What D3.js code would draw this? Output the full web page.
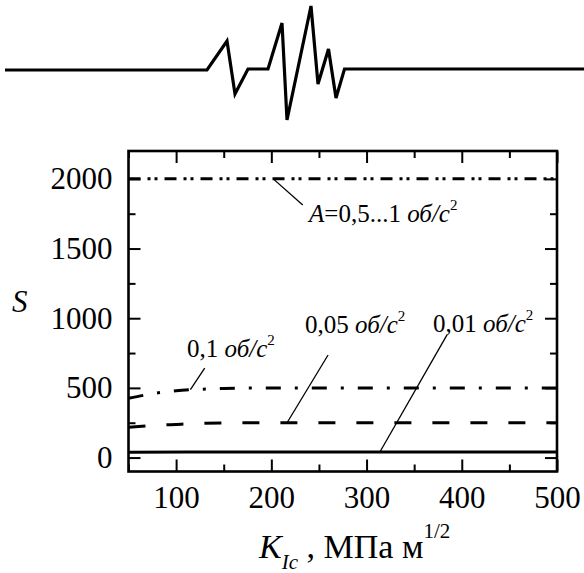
<!DOCTYPE html>
<html><head><meta charset="utf-8">
<script src="https://cdn.jsdelivr.net/npm/d3@7"></script>
<style>body{margin:0;background:#fff}svg{display:block}text{font-family:"Liberation Serif","Times New Roman",Tinos,"DejaVu Serif",serif;fill:#000}</style>
</head><body><svg id="c" width="584" height="573"></svg>
<script>
// ---- data ----
const kA = [50, 500];
const vA = [2000, 2000];
const k01 = [50, 75, 100, 125, 150, 175, 200, 500];
const v01 = [425, 458, 480, 490, 496, 499, 500, 500];
const k005 = [50, 75, 100, 125, 150, 200, 500];
const v005 = [218, 230, 238, 245, 248, 250, 250];
const k001 = [50, 150, 500];
const v001 = [38, 40, 40];
const xMajor = [100, 200, 300, 400, 500];
const xMinor = [50, 150, 250, 350, 450];
const yMajor = [0, 500, 1000, 1500, 2000];
const yMinor = [250, 750, 1250, 1750];
// decorative seismic wave (time, amplitude)
const waveT = [5, 207, 227, 235, 248, 268, 282, 287, 311, 318, 328.5, 336, 344.5, 584];
const waveA = [-1, -1, 28, -25, 0, 0, 46, -51, 63, -15, 20, -29, 0, 0];

const svg = d3.select("#c");
const x = d3.scaleLinear([50, 500], [128.5, 557]);
const y = d3.scaleLinear([-100, 2200], [471.5, 151]);

// wave
const wx = d3.scaleLinear([0, 584], [0, 584]);
const wy = d3.scaleLinear([0, 1], [69, 68]);
svg.append("path").attr("d", d3.line().x((d,i)=>wx(waveT[i])).y(d=>wy(d))(waveA))
  .attr("fill","none").attr("stroke","#000").attr("stroke-width",3.2).attr("stroke-linejoin","miter");

// axes
const fs = 31;
function styleAxis(g){ g.attr("font-family",null); g.select(".domain").remove(); g.selectAll("line").attr("stroke","#000").attr("stroke-width",2); g.selectAll("text").attr("font-size",fs).attr("fill","#000"); }
svg.append("g").attr("transform","translate(0,471.5)").call(d3.axisBottom(x).tickValues(xMajor).tickSize(-12).tickPadding(14).tickFormat(d3.format("d"))).call(styleAxis);
svg.append("g").attr("transform","translate(0,471.5)").call(d3.axisBottom(x).tickValues(xMinor).tickSize(-7).tickFormat("")).call(styleAxis);
svg.append("g").attr("transform","translate(0,151)").call(d3.axisTop(x).tickValues(xMajor).tickSize(-12).tickFormat("")).call(styleAxis);
svg.append("g").attr("transform","translate(0,151)").call(d3.axisTop(x).tickValues(xMinor).tickSize(-7).tickFormat("")).call(styleAxis);
svg.append("g").attr("transform","translate(128.5,0)").call(d3.axisLeft(y).tickValues(yMajor).tickSize(-12).tickPadding(16).tickFormat(d3.format("d"))).call(styleAxis);
svg.append("g").attr("transform","translate(128.5,0)").call(d3.axisLeft(y).tickValues(yMinor).tickSize(-7).tickFormat("")).call(styleAxis);
svg.append("g").attr("transform","translate(557,0)").call(d3.axisRight(y).tickValues(yMajor).tickSize(-12).tickFormat("")).call(styleAxis);
svg.append("g").attr("transform","translate(557,0)").call(d3.axisRight(y).tickValues(yMinor).tickSize(-7).tickFormat("")).call(styleAxis);

// series
const line = d3.line().x(d=>x(d[0])).y(d=>y(d[1])).curve(d3.curveMonotoneX);
const series = [
  {k:kA, v:vA, dash:"12,7,3,4,3,7"},
  {k:k01, v:v01, dash:"15,14,3,14"},
  {k:k005, v:v005, dash:"17,21"},
  {k:k001, v:v001, dash:null}
];
series.forEach(s=>{
  svg.append("path").attr("d", line(d3.zip(s.k, s.v))).attr("fill","none").attr("stroke","#000")
    .attr("stroke-width",3).attr("stroke-dasharray", s.dash);
});

// frame
svg.append("rect").attr("x",x(50)).attr("y",y(2200)).attr("width",x(500)-x(50)).attr("height",y(-100)-y(2200))
  .attr("fill","none").attr("stroke","#000").attr("stroke-width",2.6);

// annotations
const notes = [
  {parts:[["A","i"],["=0,5...1 ",""],["об/с","i"],["2","s"]], tx:309, ty:222, from:[202,2000], to:[233,1812]},
  {parts:[["0,1 ",""],["об/с","i"],["2","s"]], tx:187, ty:357, from:[115,487], to:[130,642]},
  {parts:[["0,05 ",""],["об/с","i"],["2","s"]], tx:305, ty:333, from:[216.5,250], to:[259.6,736]},
  {parts:[["0,01 ",""],["об/с","i"],["2","s"]], tx:433, ty:332, from:[314,40], to:[384.5,880]}
];
notes.forEach(n=>{
  svg.append("line").attr("x1",x(n.from[0])).attr("y1",y(n.from[1])).attr("x2",x(n.to[0])).attr("y2",y(n.to[1]))
    .attr("stroke","#000").attr("stroke-width",1.3);
  const t = svg.append("text").attr("x",n.tx).attr("y",n.ty).attr("font-size",25);
  n.parts.forEach(p=>{
    const ts = t.append("tspan").text(p[0]);
    if(p[1]==="i") ts.attr("font-style","italic");
    if(p[1]==="s") ts.attr("font-size",15).attr("dy",-12);
  });
});

// axis titles
svg.append("text").attr("x",12).attr("y",312).attr("font-size",31).attr("font-style","italic").text("S");
const xt = svg.append("text").attr("x",259).attr("y",558).attr("font-size",34);
xt.append("tspan").attr("font-style","italic").text("K");
xt.append("tspan").attr("font-style","italic").attr("font-size",21).attr("dy",11).text("Ic");
xt.append("tspan").attr("dy",-11).text(" , МПа м");
xt.append("tspan").attr("font-size",21).attr("dy",-20).text("1/2");
</script></body></html>
